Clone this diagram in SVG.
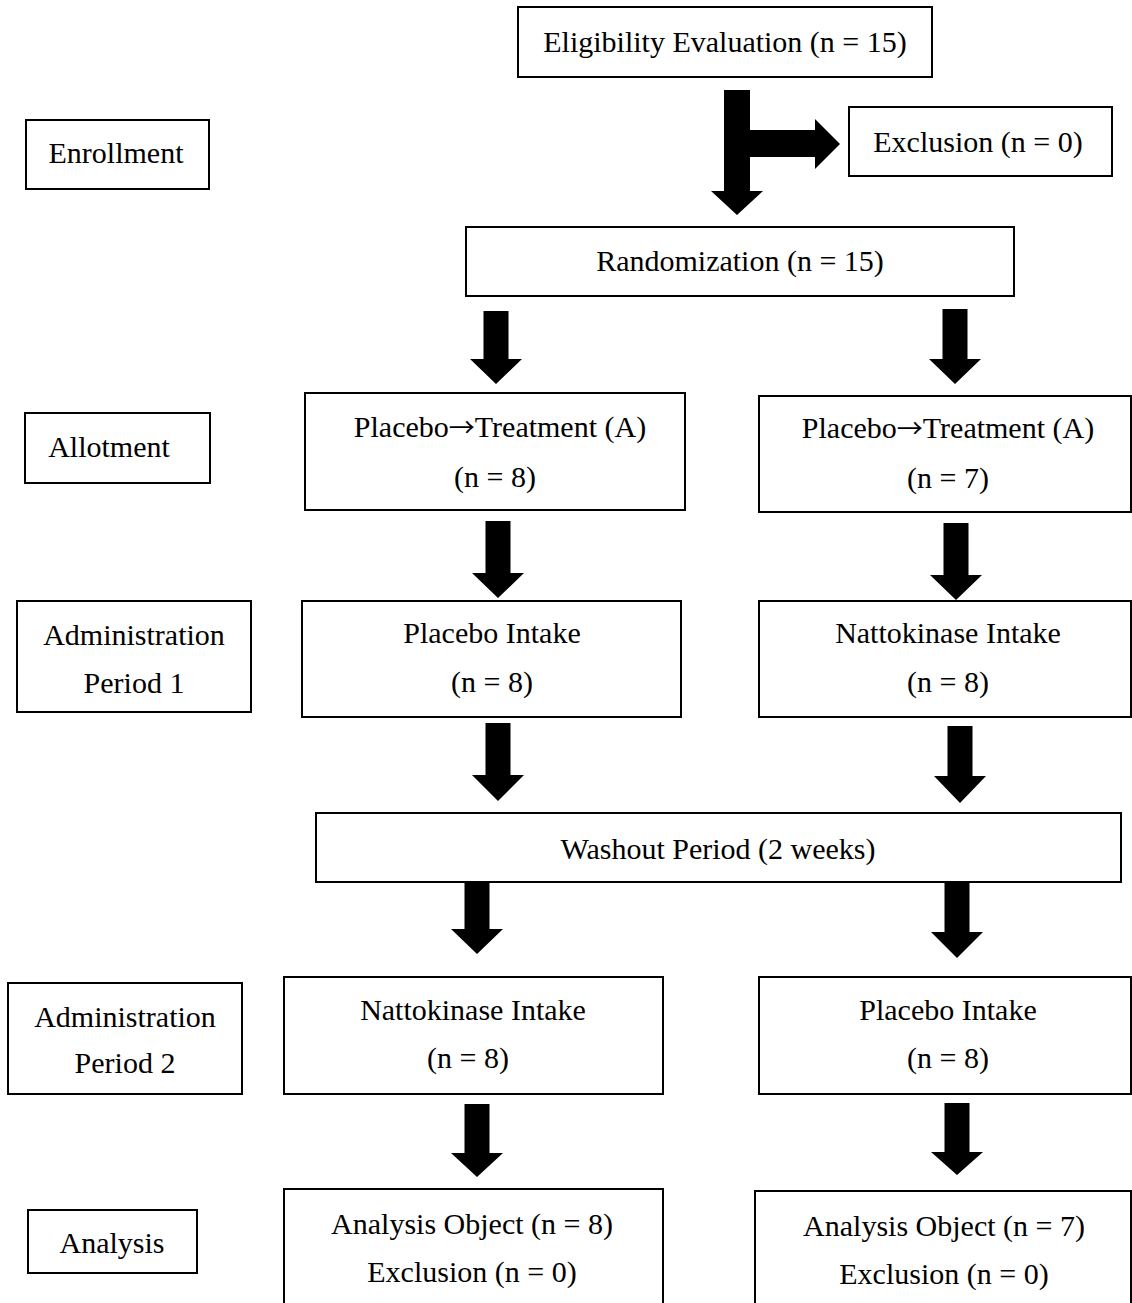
<svg xmlns="http://www.w3.org/2000/svg" width="1132" height="1303" viewBox="0 0 1132 1303">
<style>
.box{fill:#fff;stroke:#000;stroke-width:2}
.t{font-family:"Liberation Serif","Times New Roman",serif;font-size:30px;fill:#000;text-anchor:middle}
.ar{font-family:"Noto Sans CJK JP","DejaVu Serif",sans-serif;font-size:26px}
.arr{fill:#000;stroke:none}
</style>
<rect width="1132" height="1303" fill="#fff"/>
<g id="connectors">
<polygon class="arr" points="724,90 750,90 750,130 815,130 815,119 840,144 815,169 815,157 750,157 750,191 763,191 737,215 711,191 724,191"/>
<polygon class="arr" points="483.5,311 508.5,311 508.5,359 522,359 496,384 470,359 483.5,359"/>
<polygon class="arr" points="942.5,309 967.5,309 967.5,359 981,359 955,384 929,359 942.5,359"/>
<polygon class="arr" points="485.5,521 510.5,521 510.5,573 524,573 498,598 472,573 485.5,573"/>
<polygon class="arr" points="943.5,523 968.5,523 968.5,575 982,575 956,600 930,575 943.5,575"/>
<polygon class="arr" points="485.5,723 510.5,723 510.5,775 524,775 498,801 472,775 485.5,775"/>
<polygon class="arr" points="947.5,726 972.5,726 972.5,776 986,776 960,803 934,776 947.5,776"/>
<polygon class="arr" points="464.5,882 489.5,882 489.5,929 503,929 477,954 451,929 464.5,929"/>
<polygon class="arr" points="944.5,882 969.5,882 969.5,932 983,932 957,958 931,932 944.5,932"/>
<polygon class="arr" points="464.5,1104 489.5,1104 489.5,1153 503,1153 477,1177 451,1153 464.5,1153"/>
<polygon class="arr" points="944.5,1103 969.5,1103 969.5,1152 983,1152 957,1175 931,1152 944.5,1152"/>
</g>
<g id="enrollment"><rect class="box" x="26" y="120" width="183" height="69"/><text class="t" x="116" y="163">Enrollment</text></g>
<g id="eligibility"><rect class="box" x="518" y="7" width="414" height="70"/><text class="t" x="725" y="52">Eligibility Evaluation (n = 15)</text></g>
<g id="exclusion"><rect class="box" x="849" y="107" width="263" height="69"/><text class="t" x="978" y="152">Exclusion (n = 0)</text></g>
<g id="randomization"><rect class="box" x="466" y="227" width="548" height="69"/><text class="t" x="740" y="271">Randomization (n = 15)</text></g>
<g id="allotment"><rect class="box" x="25" y="413" width="185" height="70"/><text class="t" x="109" y="457">Allotment</text></g>
<g id="allot-left"><rect class="box" x="305" y="393" width="380" height="117"/><text class="t" x="500" y="437">Placebo<tspan class="ar">→</tspan>Treatment (A)</text><text class="t" x="495" y="487">(n = 8)</text></g>
<g id="allot-right"><rect class="box" x="759" y="396" width="372" height="116"/><text class="t" x="948" y="438">Placebo<tspan class="ar">→</tspan>Treatment (A)</text><text class="t" x="948" y="488">(n = 7)</text></g>
<g id="admin1"><rect class="box" x="17" y="601" width="234" height="111"/><text class="t" x="134" y="645">Administration</text><text class="t" x="134" y="693">Period 1</text></g>
<g id="p1-left"><rect class="box" x="302" y="601" width="379" height="116"/><text class="t" x="492" y="643">Placebo Intake</text><text class="t" x="492" y="692">(n = 8)</text></g>
<g id="p1-right"><rect class="box" x="759" y="601" width="372" height="116"/><text class="t" x="948" y="643">Nattokinase Intake</text><text class="t" x="948" y="692">(n = 8)</text></g>
<g id="washout"><rect class="box" x="316" y="813" width="805" height="69"/><text class="t" x="718" y="859">Washout Period (2 weeks)</text></g>
<g id="admin2"><rect class="box" x="8" y="983" width="234" height="111"/><text class="t" x="125" y="1027">Administration</text><text class="t" x="125" y="1073">Period 2</text></g>
<g id="p2-left"><rect class="box" x="284" y="977" width="379" height="117"/><text class="t" x="473" y="1020">Nattokinase Intake</text><text class="t" x="468" y="1068">(n = 8)</text></g>
<g id="p2-right"><rect class="box" x="759" y="977" width="372" height="117"/><text class="t" x="948" y="1020">Placebo Intake</text><text class="t" x="948" y="1068">(n = 8)</text></g>
<g id="analysis"><rect class="box" x="28" y="1210" width="169" height="63"/><text class="t" x="112" y="1253">Analysis</text></g>
<g id="an-left"><rect class="box" x="284" y="1189" width="379" height="130"/><text class="t" x="472" y="1234">Analysis Object (n = 8)</text><text class="t" x="472" y="1282">Exclusion (n = 0)</text></g>
<g id="an-right"><rect class="box" x="755" y="1191" width="376" height="130"/><text class="t" x="944" y="1236">Analysis Object (n = 7)</text><text class="t" x="944" y="1284">Exclusion (n = 0)</text></g>
</svg>
